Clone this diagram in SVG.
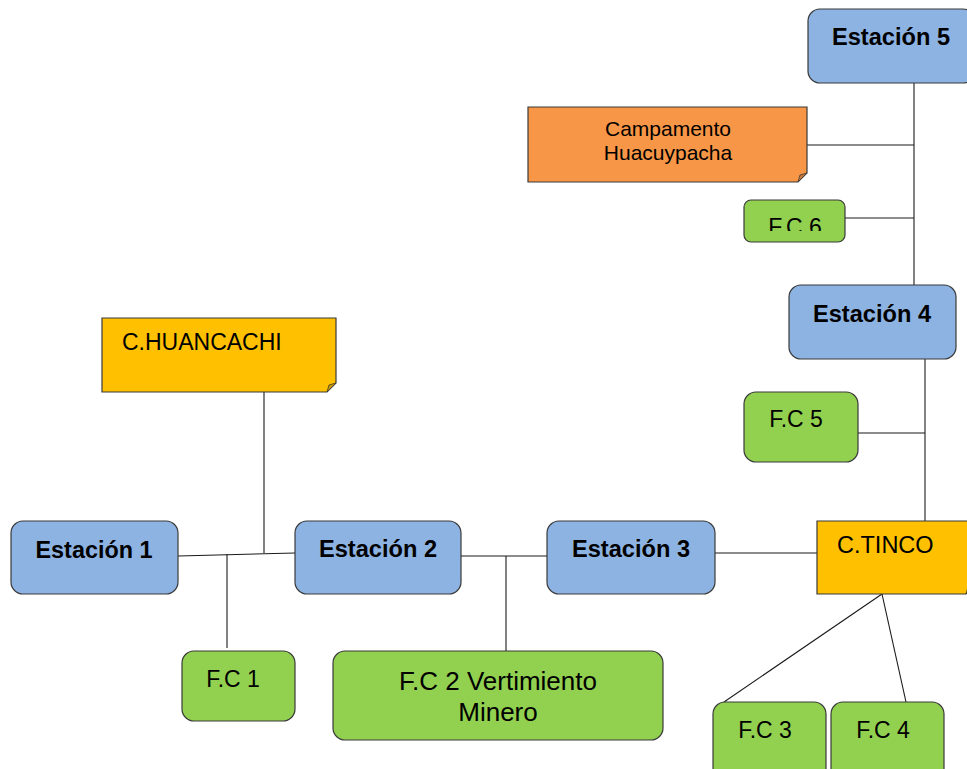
<svg xmlns="http://www.w3.org/2000/svg" width="967" height="769" viewBox="0 0 967 769">
<style>
.st{fill:#8DB3E2;stroke:#3a3a3a;stroke-width:1.2}
.fc{fill:#92D050;stroke:#3a3a3a;stroke-width:1.2}
.gold{fill:#FFC000;stroke:#3a3a3a;stroke-width:1.2}
.orange{fill:#F79646;stroke:#3a3a3a;stroke-width:1.2}
.foldg{fill:#CC9A00;stroke:#3a3a3a;stroke-width:0.8}
.foldo{fill:#C6783A;stroke:#3a3a3a;stroke-width:0.8}
.tb{font-family:"Liberation Sans",Arial,sans-serif;font-weight:bold;font-size:23px;fill:#000;text-anchor:middle}
.t{font-family:"Liberation Sans",Arial,sans-serif;font-size:23px;fill:#000}
.c{text-anchor:middle}
.ln{stroke:#1a1a1a;stroke-width:1.1;fill:none}
</style>
<defs>
<clipPath id="clip6"><rect x="744" y="200" width="101" height="31"/></clipPath>
</defs>
<g id="connectors">
<line class="ln" x1="914" y1="83" x2="914" y2="285"/>
<line class="ln" x1="807" y1="145" x2="914" y2="145"/>
<line class="ln" x1="845" y1="218" x2="914" y2="218"/>
<line class="ln" x1="925" y1="359" x2="925" y2="521"/>
<line class="ln" x1="858" y1="433" x2="925" y2="433"/>
<line class="ln" x1="178" y1="556" x2="295" y2="553"/>
<line class="ln" x1="264" y1="392" x2="264" y2="553"/>
<line class="ln" x1="227" y1="554" x2="227" y2="648"/>
<line class="ln" x1="461" y1="556" x2="547" y2="556"/>
<line class="ln" x1="506" y1="556" x2="506" y2="651"/>
<line class="ln" x1="715" y1="553" x2="817" y2="553"/>
<line class="ln" x1="882" y1="594" x2="724" y2="702"/>
<line class="ln" x1="882" y1="594" x2="906" y2="702"/>
</g>
<g id="estacion5">
<rect class="st" x="808" y="9" width="167" height="74" rx="12"/>
<text class="tb" x="891" y="45" textLength="118" lengthAdjust="spacingAndGlyphs">Estación 5</text>
</g>
<g id="campamento">
<path class="orange" d="M528,107 H807 V173 L798,182 H528 Z"/>
<path class="foldo" d="M807,173 L798,182 L800,175 Z"/>
<text class="t c" x="668" y="136" style="font-size:21px">Campamento</text>
<text class="t c" x="668" y="160" style="font-size:21px">Huacuypacha</text>
</g>
<g id="fc6">
<rect class="fc" x="744" y="200" width="101" height="42" rx="7"/>
<text class="t c" x="795" y="235" clip-path="url(#clip6)">F.C 6</text>
</g>
<g id="estacion4">
<rect class="st" x="789" y="285" width="167" height="74" rx="12"/>
<text class="tb" x="872" y="322" textLength="118" lengthAdjust="spacingAndGlyphs">Estación 4</text>
</g>
<g id="fc5">
<rect class="fc" x="744" y="392" width="114" height="70" rx="12"/>
<text class="t c" x="796" y="427">F.C 5</text>
</g>
<g id="chuancachi">
<path class="gold" d="M102,318 H336 V383 L327,392 H102 Z"/>
<path class="foldg" d="M336,383 L327,392 L329,385 Z"/>
<text class="t" x="122" y="350">C.HUANCACHI</text>
</g>
<g id="estacion1">
<rect class="st" x="11" y="521" width="167" height="73" rx="12"/>
<text class="tb" x="94" y="558" textLength="117" lengthAdjust="spacingAndGlyphs">Estación 1</text>
</g>
<g id="estacion2">
<rect class="st" x="295" y="521" width="166" height="73" rx="12"/>
<text class="tb" x="378" y="557" textLength="118" lengthAdjust="spacingAndGlyphs">Estación 2</text>
</g>
<g id="estacion3">
<rect class="st" x="547" y="521" width="168" height="73" rx="12"/>
<text class="tb" x="631" y="557" textLength="118" lengthAdjust="spacingAndGlyphs">Estación 3</text>
</g>
<g id="ctinco">
<path class="gold" d="M817,521 H975 V585 L966,594 H817 Z"/>
<path class="foldg" d="M975,585 L966,594 L968,587 Z"/>
<text class="t" x="837" y="553" style="font-size:23.5px">C.TINCO</text>
</g>
<g id="fc1">
<rect class="fc" x="182" y="651" width="113" height="70" rx="12"/>
<text class="t c" x="233" y="687">F.C 1</text>
</g>
<g id="fc2">
<rect class="fc" x="333" y="651" width="330" height="89" rx="12"/>
<text class="t c" x="498" y="690" style="font-size:26px">F.C 2 Vertimiento</text>
<text class="t c" x="498" y="721" style="font-size:26px">Minero</text>
</g>
<g id="fc3">
<rect class="fc" x="713" y="702" width="113" height="80" rx="12"/>
<text class="t c" x="765" y="738">F.C 3</text>
</g>
<g id="fc4">
<rect class="fc" x="831" y="702" width="113" height="80" rx="12"/>
<text class="t c" x="883" y="738">F.C 4</text>
</g>
</svg>
